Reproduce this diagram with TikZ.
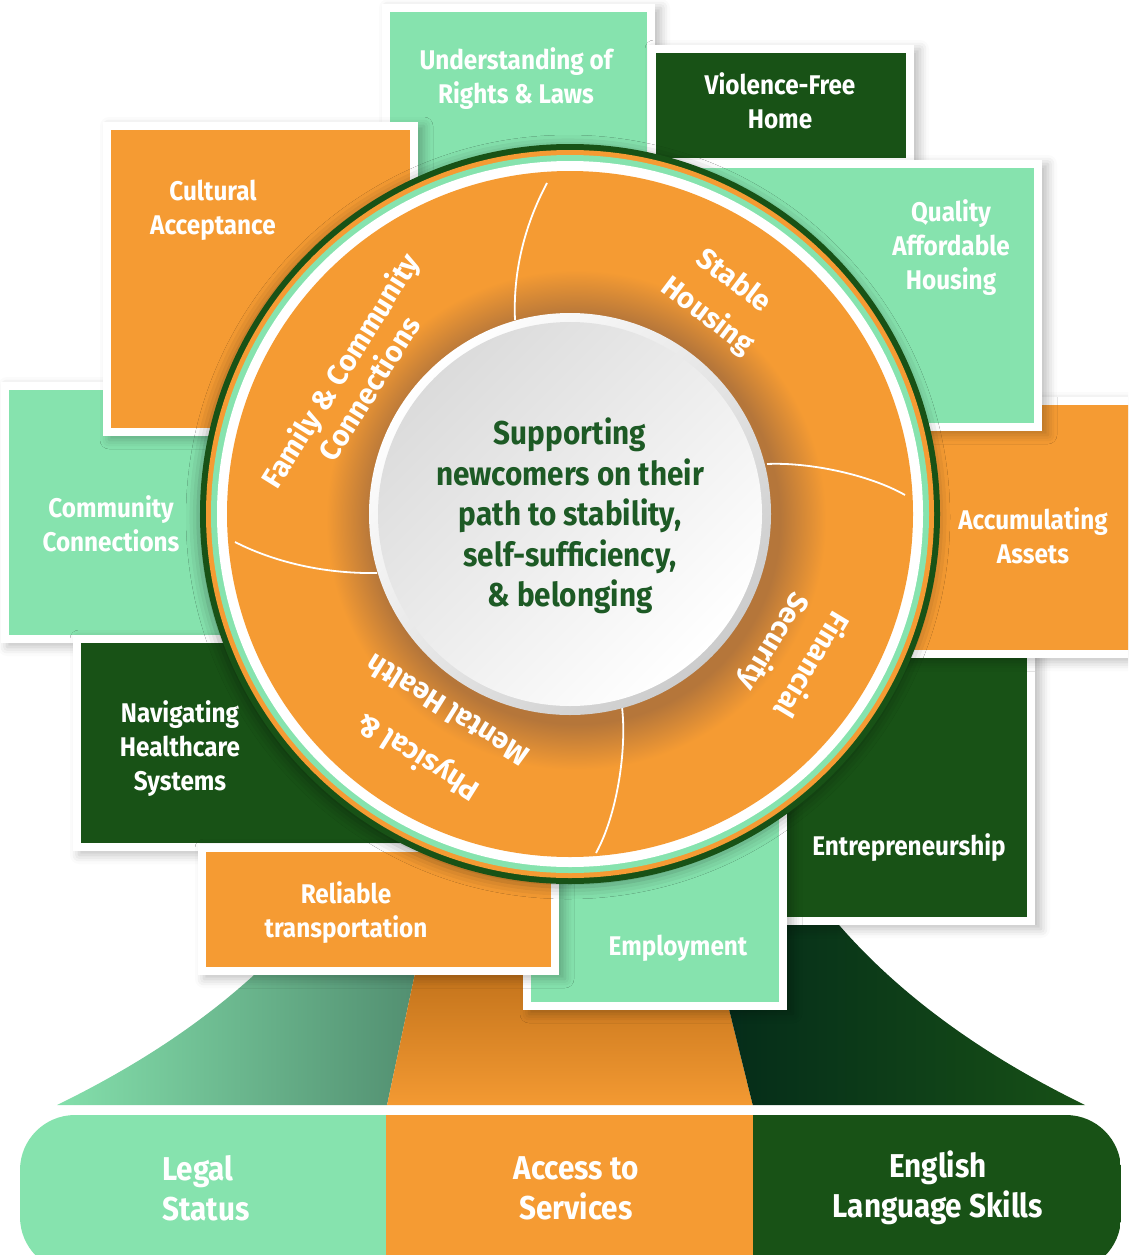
\documentclass[tikz,border=0pt]{standalone}
\usepackage{fontspec}
\newfontfamily\condf{Fira Sans}[FakeStretch=0.9]
\newfontfamily\ringf{Fira Sans}
\usetikzlibrary{shadows.blur}
\definecolor{mintc}{HTML}{86E3AE}
\definecolor{orc}{HTML}{F59B33}
\definecolor{dgc}{HTML}{185216}
\definecolor{txg}{HTML}{1D5A25}
\definecolor{haloc}{HTML}{B5763A}
\definecolor{tealc}{HTML}{4F8A6D}
\definecolor{brownc}{HTML}{9A5208}
\definecolor{darkgc}{HTML}{03291A}
\pgfdeclareradialshading{halo}{\pgfpoint{0bp}{0bp}}{color(0bp)=(haloc); color(20.4bp)=(haloc); color(25bp)=(orc); color(50bp)=(orc)}
\newcommand\framedbox[5]{%
  \fill[white, bshadow] (#1-8,#2-8) rectangle (#3+8,#4+8);
  \fill[#5] (#1,#2) rectangle (#3,#4);}
\begin{document}
\begin{tikzpicture}[x=1pt,y=-1pt,
  bshadow/.style={blur shadow={shadow xshift=6pt, shadow yshift=-4pt, shadow blur radius=9pt, shadow opacity=25}},
  lbl/.style={text=white, align=center, inner sep=0pt, font=\condf\bfseries\fontsize{27}{34}\selectfont},
  ringlbl/.style={text=white, align=center, inner sep=0pt, font=\ringf\bfseries\fontsize{29}{#1}\selectfont},
  centerlbl/.style={text=txg, align=center, inner sep=0pt, font=\condf\bfseries\fontsize{33}{40.5}\selectfont},
  baselbl/.style={text=white, inner sep=0pt, font=\condf\bfseries\fontsize{33}{40}\selectfont},
  divider/.style={white, line width=1.8pt}]
\useasboundingbox (0,0) rectangle (1128,1255);
\clip (0,0) rectangle (1128,1255);

% ---- funnel base ----
\begin{scope}
  \clip (57,1105) .. controls (170,1050) and (275,975) .. (345,870) -- (797,870)
        .. controls (867,975) and (972,1050) .. (1085,1105) -- cycle;
  \shade[left color=mintc, right color=tealc] (40,860) -- (439,860) -- (386,1110) -- (40,1110) -- cycle;
  \shade[top color=brownc, bottom color=orc] (439,860) -- (692,860) -- (754,1110) -- (386,1110) -- cycle;
  \shade[left color=darkgc, right color=dgc] (692,860) -- (1100,860) -- (1100,1110) -- (754,1110) -- cycle;
\end{scope}

% ---- pill ----
\begin{scope}
  \clip[rounded corners=55pt] (20,1115) rectangle (1121,1272);
  \fill[mintc] (20,1115) rectangle (386,1272);
  \fill[orc] (386,1115) rectangle (753,1272);
  \fill[dgc] (753,1115) rectangle (1121,1272);
\end{scope}
\node[baselbl, align=left, anchor=west] (legal) at (162,1188) {Legal\\Status};
\node[baselbl, align=center] (access) at (576,1188) {Access to\\Services};
\node[baselbl, align=center] (english) at (938,1188) {English\\Language Skills};

% ---- boxes ----
\framedbox{390}{12}{647}{300}{mintc}
\framedbox{656}{53}{906}{158}{dgc}
\framedbox{740}{640}{1027}{917}{dgc}
\framedbox{860}{405}{1140}{650}{orc}
\framedbox{640}{168}{1034}{423}{mintc}
\framedbox{9}{390}{300}{635}{mintc}
\framedbox{111}{130}{410}{428}{orc}
\framedbox{81}{643}{420}{843}{dgc}
\framedbox{531}{800}{779}{1002}{mintc}
\framedbox{206}{852}{551}{967}{orc}

\node[lbl] (rights) at (516,79) {Understanding of\\Rights \& Laws};
\node[lbl] (violence) at (780,101) {Violence-Free\\Home};
\node[lbl] (quality) at (951,248) {Quality\\Affordable\\Housing};
\node[lbl] (cultural) at (213,210) {Cultural\\Acceptance};
\node[lbl] (community) at (111,524) {Community\\Connections};
\node[lbl] (health) at (180,749) {Navigating\\Healthcare\\Systems};
\node[lbl] (assets) at (1033,536) {Accumulating\\Assets};
\node[lbl] (entre) at (909,848) {Entrepreneurship};
\node[lbl] (transport) at (346,913) {Reliable\\transportation};
\node[lbl] (employ) at (678,948) {Employment};

% ---- wheel ----
\fill[dgc, blur shadow={shadow xshift=-2pt, shadow yshift=-3pt, shadow blur radius=12pt, shadow opacity=35}] (570,514) circle (370);
\fill[orc] (570,514) circle (364);
\fill[mintc] (570,514) circle (359);
\fill[white] (570,514) circle (353);
\fill[orc] (570,514) circle (343);
\shade[shading=halo] (576,520) circle (250);

\draw[divider] (547,183) .. controls (523,228) and (513,275) .. (515,320);
\draw[divider] (767,464) .. controls (810,462) and (870,475) .. (905,495);
\draw[divider] (622,707) .. controls (627,750) and (617,815) .. (596,853);
\draw[divider] (235,542) .. controls (270,560) and (320,574) .. (377,573);

\shade[top color=white, bottom color=black!20, shading angle=45] (570,514) circle (201);
\shade[top color=black!14, bottom color=white, shading angle=45] (570,514) circle (192);

\node[ringlbl=34, rotate=58] (family) at (354,379) {Family \& Community\\Connections};
\node[ringlbl=44, rotate=-37] (housing) at (720,299) {Stable\\Housing};
\node[ringlbl=44, rotate=-121] (finance) at (792,653) {Financial\\Security};
\node[ringlbl=56, rotate=148] (wellness) at (432,735) {Physical \&\\Mental Health};

\node[centerlbl] (mission) at (570,516) {Supporting\\newcomers on their\\path to stability,\\self-sufficiency,\\\& belonging};
\end{tikzpicture}
\end{document}
